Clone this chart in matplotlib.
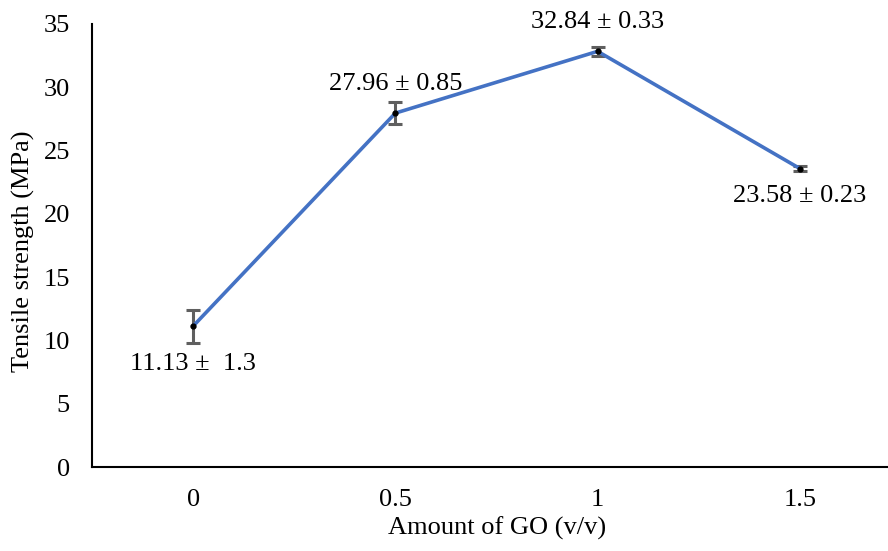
import matplotlib.pyplot as plt

plt.rcParams['font.family'] = ['Liberation Serif', 'DejaVu Serif']

# data
go_amount = ["0", "0.5", "1", "1.5"]
strength = [11.13, 27.96, 32.84, 23.58]
strength_err = [1.3, 0.85, 0.33, 0.23]
point_labels = ["11.13 \u00b1  1.3", "27.96 \u00b1 0.85", "32.84 \u00b1 0.33", "23.58 \u00b1 0.23"]
label_offsets = [-27, 21, 21, -20]  # points, below/above

fig = plt.figure(figsize=(8.88, 5.51), dpi=100)
ax = fig.add_axes([92 / 888, 84 / 551, 809 / 888, 443 / 551])

pos = list(range(len(go_amount)))
ax.errorbar(pos, strength, yerr=strength_err, fmt='none', ecolor='#5f5f5f',
            elinewidth=2.2, capsize=5, capthick=2.2, zorder=2)
ax.plot(pos, strength, color='#4472C4', linewidth=2.6, zorder=3)
ax.plot(pos, strength, 'o', color='black', markersize=3.5, zorder=4)

for x, y, txt, off in zip(pos, strength, point_labels, label_offsets):
    ax.annotate(txt, (x, y), xytext=(0, off), textcoords='offset points',
                ha='center', va='center', fontsize=19)

ax.set_xlim(-0.5, 3.5)
ax.set_ylim(0, 35)
ax.set_yticks(range(0, 36, 5))
ax.set_xticks(pos)
ax.set_xticklabels(go_amount)
ax.tick_params(axis='both', length=0, labelsize=19, pad=16)

for side in ['top', 'right']:
    ax.spines[side].set_visible(False)
for side in ['left', 'bottom']:
    ax.spines[side].set_linewidth(1.5)

ax.set_xlabel("Amount of GO (v/v)", fontsize=19)
ax.set_ylabel("Tensile strength (MPa)", fontsize=19)
ax.yaxis.set_label_coords(-57 / 809, (467 - 251) / 443)
ax.xaxis.set_label_coords((497 - 92) / 809, -50 / 443)

fig.savefig("out.png", dpi=100)
